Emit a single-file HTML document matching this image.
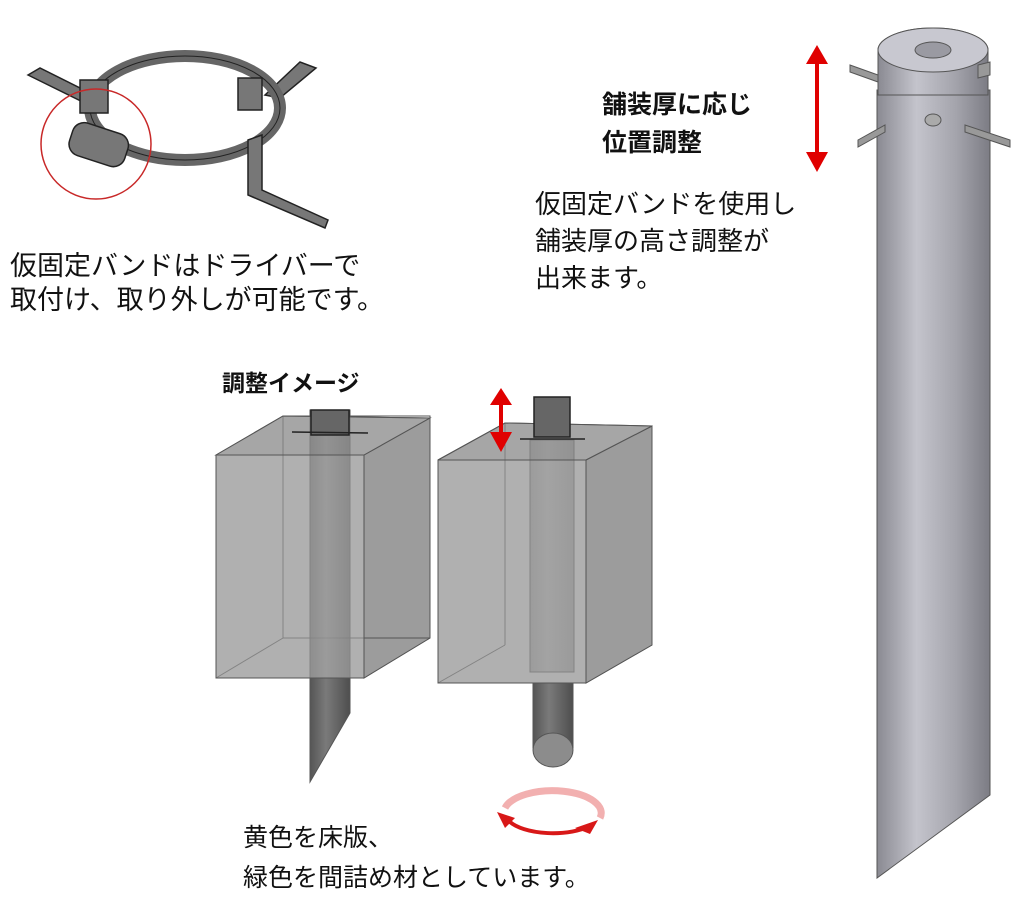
<!DOCTYPE html>
<html><head><meta charset="utf-8"><style>
body{margin:0;background:#fff;width:1024px;height:903px;overflow:hidden;position:relative;font-family:"Liberation Sans","Noto Sans CJK JP",sans-serif;color:#111}
.t{position:absolute;white-space:nowrap}
</style></head><body>
<svg width="1024" height="903" style="position:absolute;left:0;top:0">
<defs>
<linearGradient id="pg" x1="0" x2="1"><stop offset="0" stop-color="#8a8a92"/><stop offset=".35" stop-color="#c4c4cc"/><stop offset=".7" stop-color="#a4a4ac"/><stop offset="1" stop-color="#7c7c84"/></linearGradient>
<linearGradient id="dg" x1="0" x2="1"><stop offset="0" stop-color="#555"/><stop offset=".4" stop-color="#7a7a7a"/><stop offset="1" stop-color="#4e4e4e"/></linearGradient>
</defs>
<!-- band -->
<g stroke="#222" stroke-width="1.5" fill="#777">
<polygon points="28,75 40,68 100,98 95,108"/>
<polygon points="265,95 300,62 316,68 280,98"/>
<ellipse cx="185" cy="108" rx="95" ry="52" fill="none" stroke="#666" stroke-width="12"/>
<ellipse cx="185" cy="108" rx="95" ry="52" fill="none" stroke="#222" stroke-width="1"/>
<rect x="80" y="80" width="28" height="33"/>
<rect x="238" y="78" width="24" height="32"/>
<polygon points="248,140 262,135 262,190 328,220 325,228 248,195"/>
<rect x="70" y="128" width="58" height="34" rx="12" transform="rotate(18 100 144)"/>
</g>
<circle cx="96" cy="144" r="55" fill="none" stroke="#c82828" stroke-width="1.5"/>
<!-- box 1 -->
<g stroke="#555" stroke-width="1">
<polygon points="216,455 283,416 430,418 430,638 364,678 216,678" fill="#b0b0b0" fill-opacity=".9"/>
<polygon points="364,455 430,418 430,638 364,678" fill="#9c9c9c"/>
<rect x="283" y="416" width="147" height="222" fill="none"/>
<line x1="216" y1="678" x2="283" y2="638"/>
<rect x="310" y="410" width="40" height="268" fill="url(#dg)" fill-opacity=".75"/>
<polygon points="310,678 350,678 350,713 310,782" fill="url(#dg)"/>
<polygon points="216,455 283,416 430,418 364,455" fill="#999" fill-opacity=".6"/>
<rect x="216" y="455" width="148" height="223" fill="#aaa" fill-opacity=".55"/>
</g>
<g stroke="#222" stroke-width="1.5" fill="#666"><rect x="311" y="410" width="38" height="25"/><line x1="292" y1="432" x2="368" y2="433"/></g>
<!-- box 2 -->
<g stroke="#555" stroke-width="1">
<polygon points="438,460 505,423 652,426 652,645 586,683 438,683" fill="#b0b0b0" fill-opacity=".9"/>
<polygon points="586,460 652,426 652,645 586,683" fill="#9c9c9c"/>
<line x1="438" y1="683" x2="505" y2="645"/><line x1="505" y1="423" x2="505" y2="645"/>
<rect x="533" y="683" width="40" height="65" fill="url(#dg)"/>
<ellipse cx="553" cy="750" rx="20" ry="17" fill="#8c8c8c"/>
<rect x="530" y="440" width="44" height="232" fill="url(#dg)" fill-opacity=".45"/>
<polygon points="438,460 505,423 652,426 586,460" fill="#999" fill-opacity=".6"/>
<rect x="438" y="460" width="148" height="223" fill="#aaa" fill-opacity=".55"/>
</g>
<g stroke="#222" stroke-width="1.5" fill="#666"><rect x="534" y="397" width="36" height="40"/><line x1="520" y1="439" x2="585" y2="439"/></g>
<!-- red arrows -->
<g fill="#e00000">
<rect x="499" y="400" width="4" height="40"/><polygon points="490,405 501,388 512,405"/><polygon points="490,432 501,452 512,432"/>
<rect x="815" y="58" width="4" height="100"/><polygon points="806,64 817,45 828,64"/><polygon points="806,152 817,172 828,152"/>
</g>
<!-- rotation -->
<path d="M505,808 A48,22 0 1,1 600,818" fill="none" stroke="#f2b0b0" stroke-width="7"/>
<path d="M510,822 A48,20 0 0,0 590,826" fill="none" stroke="#d81818" stroke-width="4"/>
<polygon points="497,812 515,818 505,828" fill="#d81818"/><polygon points="575,828 598,820 590,834" fill="#d81818"/>
<!-- tall pole -->
<g stroke="#555" stroke-width="1">
<polygon points="877,90 990,90 990,795 877,878" fill="url(#pg)"/>
<ellipse cx="933" cy="50" rx="55" ry="22" fill="#b8b8c0"/>
<rect x="878" y="50" width="110" height="45" fill="url(#pg)"/>
<ellipse cx="933" cy="50" rx="55" ry="22" fill="#c8c8d0"/>
<ellipse cx="933" cy="50" rx="18" ry="8" fill="#9a9aa2"/>
<polygon points="850,65 878,75 878,82 850,72" fill="#999"/>
<polygon points="978,65 990,62 990,75 978,78" fill="#999"/>
<polygon points="858,140 885,125 885,132 858,147" fill="#999"/>
<polygon points="965,125 1010,140 1010,147 965,132" fill="#999"/>
<ellipse cx="933" cy="120" rx="8" ry="6" fill="#aaa"/>
</g>
</svg>
<div class="t" style="left:10px;top:249px;font-size:27px;line-height:34px">仮固定バンドはドライバーで<br>取付け、取り外しが可能です。</div>
<div class="t" style="left:602px;top:86px;font-size:25px;line-height:38px;font-weight:bold">舗装厚に応じ<br>位置調整</div>
<div class="t" style="left:535px;top:186px;font-size:26px;line-height:37px">仮固定バンドを使用し<br>舗装厚の高さ調整が<br>出来ます。</div>
<div class="t" style="left:222px;top:364px;font-size:23px;font-weight:bold">調整イメージ</div>
<div class="t" style="left:243px;top:818px;font-size:25px;line-height:40px">黄色を床版、<br>緑色を間詰め材としています。</div>
</body></html>
